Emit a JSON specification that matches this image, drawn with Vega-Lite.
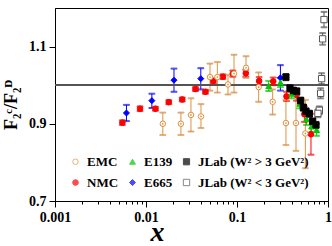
{
  "$schema": "https://vega.github.io/schema/vega-lite/v6.json",
  "width": 273,
  "height": 193,
  "autosize": {"type": "none"},
  "padding": {"left": 55, "top": 8, "right": 4, "bottom": 45},
  "background": "white",
  "config": {
    "view": {"stroke": "black", "strokeWidth": 1},
    "axis": {
      "labelFont": "Liberation Serif",
      "labelFontWeight": "bold",
      "labelFontSize": 14,
      "labelColor": "black",
      "titleFont": "Liberation Serif",
      "titleFontWeight": "bold",
      "titleColor": "black",
      "domainColor": "black",
      "tickColor": "black",
      "grid": false,
      "labelOverlap": false,
      "labelFlush": false
    },
    "axisY": {"labelOverlap": false, "labelSeparation": -1000}
  },
  "data": {"values": [
      {"s": "NMC", "x": 0.0055, "y": 0.903, "lo": 0.897, "hi": 0.909},
      {"s": "NMC", "x": 0.0086, "y": 0.939, "lo": 0.933, "hi": 0.945},
      {"s": "NMC", "x": 0.0127, "y": 0.939, "lo": 0.934, "hi": 0.944},
      {"s": "NMC", "x": 0.0178, "y": 0.956, "lo": 0.951, "hi": 0.961},
      {"s": "NMC", "x": 0.025, "y": 0.963, "lo": 0.958, "hi": 0.968},
      {"s": "NMC", "x": 0.035, "y": 0.990, "lo": 0.985, "hi": 0.995},
      {"s": "NMC", "x": 0.045, "y": 0.983, "lo": 0.978, "hi": 0.988},
      {"s": "NMC", "x": 0.055, "y": 1.011, "lo": 1.005, "hi": 1.017},
      {"s": "NMC", "x": 0.070, "y": 1.022, "lo": 1.016, "hi": 1.028},
      {"s": "NMC", "x": 0.090, "y": 1.030, "lo": 1.022, "hi": 1.038},
      {"s": "NMC", "x": 0.125, "y": 1.031, "lo": 1.022, "hi": 1.040},
      {"s": "NMC", "x": 0.175, "y": 1.011, "lo": 1.001, "hi": 1.021},
      {"s": "NMC", "x": 0.25, "y": 1.010, "lo": 1.000, "hi": 1.020},
      {"s": "NMC", "x": 0.35, "y": 0.971, "lo": 0.959, "hi": 0.983},
      {"s": "NMC", "x": 0.45, "y": 0.975, "lo": 0.960, "hi": 0.990},
      {"s": "NMC", "x": 0.55, "y": 0.925, "lo": 0.905, "hi": 0.945},
      {"s": "NMC", "x": 0.65, "y": 0.873, "lo": 0.820, "hi": 0.926},
      {"s": "E665", "x": 0.0061, "y": 0.928, "lo": 0.907, "hi": 0.949},
      {"s": "E665", "x": 0.0116, "y": 0.960, "lo": 0.941, "hi": 0.978},
      {"s": "E665", "x": 0.0203, "y": 1.013, "lo": 0.983, "hi": 1.043},
      {"s": "E665", "x": 0.040, "y": 1.017, "lo": 0.989, "hi": 1.044},
      {"s": "E665", "x": 0.30, "y": 1.019, "lo": 0.986, "hi": 1.052},
      {"s": "EMC", "x": 0.0153, "y": 0.900, "lo": 0.871, "hi": 0.929},
      {"s": "EMC", "x": 0.0242, "y": 0.900, "lo": 0.871, "hi": 0.929},
      {"s": "EMC", "x": 0.0312, "y": 0.923, "lo": 0.880, "hi": 0.966},
      {"s": "EMC", "x": 0.0402, "y": 0.919, "lo": 0.889, "hi": 0.951},
      {"s": "EMC", "x": 0.0505, "y": 1.021, "lo": 0.986, "hi": 1.056},
      {"s": "EMC", "x": 0.0608, "y": 1.021, "lo": 0.981, "hi": 1.060},
      {"s": "EMC", "x": 0.0796, "y": 1.002, "lo": 0.976, "hi": 1.027},
      {"s": "EMC", "x": 0.0927, "y": 1.030, "lo": 0.981, "hi": 1.079},
      {"s": "EMC", "x": 0.1256, "y": 1.045, "lo": 1.019, "hi": 1.075},
      {"s": "EMC", "x": 0.173, "y": 0.995, "lo": 0.957, "hi": 1.033},
      {"s": "EMC", "x": 0.2466, "y": 0.957, "lo": 0.924, "hi": 0.989},
      {"s": "EMC", "x": 0.345, "y": 0.902, "lo": 0.845, "hi": 0.962},
      {"s": "EMC", "x": 0.445, "y": 0.902, "lo": 0.830, "hi": 0.980},
      {"s": "EMC", "x": 0.564, "y": 0.875, "lo": 0.785, "hi": 0.962},
      {"s": "E139", "x": 0.223, "y": 0.998, "lo": 0.985, "hi": 1.011},
      {"s": "E139", "x": 0.30, "y": 1.007, "lo": 0.995, "hi": 1.019},
      {"s": "E139", "x": 0.40, "y": 0.978, "lo": 0.966, "hi": 0.990},
      {"s": "E139", "x": 0.49, "y": 0.952, "lo": 0.940, "hi": 0.964},
      {"s": "E139", "x": 0.58, "y": 0.912, "lo": 0.897, "hi": 0.927},
      {"s": "E139", "x": 0.66, "y": 0.893, "lo": 0.878, "hi": 0.908},
      {"s": "E139", "x": 0.75, "y": 0.884, "lo": 0.869, "hi": 0.899},
      {"s": "JLab (W² > 3 GeV²)", "x": 0.345, "y": 1.021, "lo": 1.013, "hi": 1.029},
      {"s": "JLab (W² > 3 GeV²)", "x": 0.382, "y": 0.992, "lo": 0.984, "hi": 1.000},
      {"s": "JLab (W² > 3 GeV²)", "x": 0.416, "y": 0.986, "lo": 0.978, "hi": 0.994},
      {"s": "JLab (W² > 3 GeV²)", "x": 0.453, "y": 0.984, "lo": 0.976, "hi": 0.992},
      {"s": "JLab (W² > 3 GeV²)", "x": 0.501, "y": 0.960, "lo": 0.952, "hi": 0.968},
      {"s": "JLab (W² > 3 GeV²)", "x": 0.536, "y": 0.942, "lo": 0.934, "hi": 0.950},
      {"s": "JLab (W² > 3 GeV²)", "x": 0.573, "y": 0.932, "lo": 0.924, "hi": 0.940},
      {"s": "JLab (W² > 3 GeV²)", "x": 0.624, "y": 0.926, "lo": 0.918, "hi": 0.934},
      {"s": "JLab (W² > 3 GeV²)", "x": 0.679, "y": 0.906, "lo": 0.898, "hi": 0.914},
      {"s": "JLab (W² > 3 GeV²)", "x": 0.738, "y": 0.897, "lo": 0.889, "hi": 0.905},
      {"s": "JLab (W² < 3 GeV²)", "x": 0.904, "y": 1.170, "lo": 1.150, "hi": 1.190},
      {"s": "JLab (W² < 3 GeV²)", "x": 0.873, "y": 1.120, "lo": 1.105, "hi": 1.135},
      {"s": "JLab (W² < 3 GeV²)", "x": 0.851, "y": 1.017, "lo": 1.003, "hi": 1.031},
      {"s": "JLab (W² < 3 GeV²)", "x": 0.830, "y": 0.979, "lo": 0.966, "hi": 0.992},
      {"s": "JLab (W² < 3 GeV²)", "x": 0.803, "y": 0.935, "lo": 0.925, "hi": 0.945},
      {"s": "JLab (W² < 3 GeV²)", "x": 0.775, "y": 0.927, "lo": 0.917, "hi": 0.937}
  ]},
  "layer": [
    {
      "mark": {"type": "rule", "strokeWidth": 1},
      "encoding": {
        "x": {"field": "x", "type": "quantitative", "title": "x",
          "scale": {"type": "log", "domain": [0.001, 1], "nice": false},
          "axis": {
            "values": [0.001, 0.002, 0.003, 0.004, 0.005, 0.006, 0.007, 0.008, 0.009, 0.01, 0.02, 0.03, 0.04, 0.05, 0.06, 0.07, 0.08, 0.09, 0.1, 0.2, 0.3, 0.4, 0.5, 0.6, 0.7, 0.8, 0.9, 1],
            "format": "~g",
            "labelOverlap": false,
            "labelExpr": "abs(log(datum.value)/LN10 - round(log(datum.value)/LN10)) < 1e-6 ? datum.label : ''",
            "tickSize": {"condition": {"test": "abs(log(datum.value)/LN10 - round(log(datum.value)/LN10)) < 1e-6", "value": 6}, "value": 3},
            "labelPadding": 3,
            "titleFontSize": 28,
            "titleFontStyle": "italic",
            "titleBaseline": "alphabetic",
            "titleX": 102,
            "titleY": 39
          }},
        "y": {"field": "lo", "type": "quantitative", "title": "F₂ᶜ/F₂ᴰ",
          "scale": {"domain": [0.7, 1.2], "nice": false, "zero": false},
          "axis": {
            "values": [0.7, 0.8, 0.9, 1, 1.1, 1.2],
            "format": "~g",
            "labelOverlap": false,
            "labelSeparation": -1000,
            "labelFlush": false,
            "labelBound": false,
            "tickSize": 6,
            "labelPadding": 3,
            "titleFontSize": 18,
            "titlePadding": 8
          }},
        "y2": {"field": "hi"},
        "stroke": {"field": "s", "type": "nominal",
          "scale": {"domain": ["EMC", "NMC", "E139", "E665", "JLab (W² > 3 GeV²)", "JLab (W² < 3 GeV²)"],
            "range": ["#e0903c", "#ff0000", "#00c800", "#0000ff", "#000000", "#555555"]}}
      }
    },
    {
      "mark": {"type": "rule", "color": "#555555", "strokeWidth": 1},
      "encoding": {
        "y": {"datum": 1, "type": "quantitative"}
      }
    },
    {
      "mark": {"type": "tick", "orient": "horizontal", "size": 6, "thickness": 1},
      "encoding": {
        "x": {"field": "x", "type": "quantitative", "title": "x"},
        "y": {"field": "lo", "type": "quantitative", "title": "F₂ᶜ/F₂ᴰ"},
        "stroke": {"field": "s", "type": "nominal"}
      }
    },
    {
      "mark": {"type": "tick", "orient": "horizontal", "size": 6, "thickness": 1},
      "encoding": {
        "x": {"field": "x", "type": "quantitative", "title": "x"},
        "y": {"field": "hi", "type": "quantitative", "title": "F₂ᶜ/F₂ᴰ"},
        "stroke": {"field": "s", "type": "nominal"}
      }
    },
    {
      "mark": {"type": "point", "strokeWidth": 1, "opacity": 1},
      "encoding": {
        "x": {"field": "x", "type": "quantitative", "title": "x"},
        "y": {"field": "y", "type": "quantitative", "title": "F₂ᶜ/F₂ᴰ"},
        "shape": {"field": "s", "type": "nominal",
          "scale": {"domain": ["EMC", "NMC", "E139", "E665", "JLab (W² > 3 GeV²)", "JLab (W² < 3 GeV²)"],
            "range": ["circle", "circle", "triangle-up", "diamond", "square", "square"]},
          "legend": {"orient": "none", "legendX": 14, "legendY": 147, "columns": 3, "title": null,
            "labelFont": "Liberation Serif", "labelFontWeight": "bold", "labelFontSize": 13, "labelColor": "black",
            "symbolStrokeWidth": 1, "rowPadding": 7, "columnPadding": 7, "labelOffset": 5}},
        "stroke": {"field": "s", "type": "nominal"},
        "fill": {"field": "s", "type": "nominal",
          "scale": {"domain": ["EMC", "NMC", "E139", "E665", "JLab (W² > 3 GeV²)", "JLab (W² < 3 GeV²)"],
            "range": ["#ffffff", "#ff0000", "#00c800", "#0000ff", "#000000", "#ffffff"]}},
        "size": {"field": "s", "type": "nominal",
          "scale": {"domain": ["EMC", "NMC", "E139", "E665", "JLab (W² > 3 GeV²)", "JLab (W² < 3 GeV²)"],
            "range": [30, 40, 30, 22, 38, 28]}}
      }
    },
    {
      "transform": [{"filter": "datum.s == 'EMC'"}],
      "mark": {"type": "point", "filled": true, "size": 3, "color": "#e0903c", "opacity": 1},
      "encoding": {
        "x": {"field": "x", "type": "quantitative", "title": "x"},
        "y": {"field": "y", "type": "quantitative", "title": "F₂ᶜ/F₂ᴰ"}
      }
    }
  ]
}
